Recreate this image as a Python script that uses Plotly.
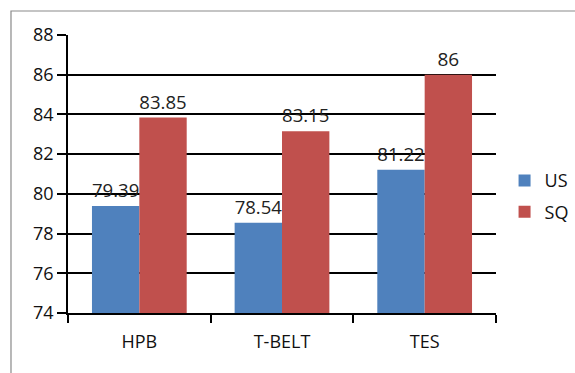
import plotly.graph_objects as go

categories = ["HPB", "T-BELT", "TES"]
us_values = [79.39, 78.54, 81.22]
sq_values = [83.85, 83.15, 86]
y_ticks = [74, 76, 78, 80, 82, 84, 86, 88]

FONT = "Open Sans, Noto Sans, sans-serif"

fig = go.Figure()
fig.add_trace(go.Bar(
    name="US", x=categories, y=us_values, legendgroup="us",
    marker=dict(color="#4F81BD", line=dict(width=0)),
    text=[f"{v:g}" for v in us_values], textposition="outside",
    textfont=dict(size=19, color="#222222", family=FONT),
    cliponaxis=False,
))
fig.add_trace(go.Bar(
    name="SQ", x=categories, y=sq_values, legendgroup="sq",
    marker=dict(color="#C0504D", line=dict(width=0)),
    text=[f"{v:g}" for v in sq_values], textposition="outside",
    textfont=dict(size=19, color="#222222", family=FONT),
    cliponaxis=False,
))

fig.update_layout(
    width=575, height=373,
    margin=dict(l=68, r=79, t=35, b=60, autoexpand=False),
    paper_bgcolor="white", plot_bgcolor="white",
    barmode="group", bargap=0.336, bargroupgap=0,
    font=dict(family=FONT, size=18, color="#111111"),
    showlegend=True,
    legend=dict(x=1.02, y=0.42, xanchor="left", yanchor="middle",
                font=dict(size=18), itemwidth=30,
                traceorder="grouped", tracegroupgap=5),
    shapes=[dict(type="rect", xref="paper", yref="paper",
                 x0=-0.1332, x1=2, y0=-1, y1=1.0863,
                 line=dict(color="#8a8a8a", width=1.2), layer="below")],
)
fig.update_yaxes(
    range=[74, 88], tickvals=y_ticks, ticks="outside", ticklen=9,
    tickcolor="black", tickwidth=1.5,
    showline=True, linecolor="black", linewidth=1.5,
    showgrid=True, gridcolor="black", gridwidth=1.5,
    zeroline=False, tickfont=dict(size=18), ticklabelstandoff=0,
)
fig.update_xaxes(
    tickson="boundaries", ticks="outside", ticklen=8,
    tickcolor="black", tickwidth=1.5,
    showline=True, linecolor="black", linewidth=1.5,
    showgrid=False, tickfont=dict(size=18), ticklabelstandoff=12,
)

fig.write_html("out.html")
